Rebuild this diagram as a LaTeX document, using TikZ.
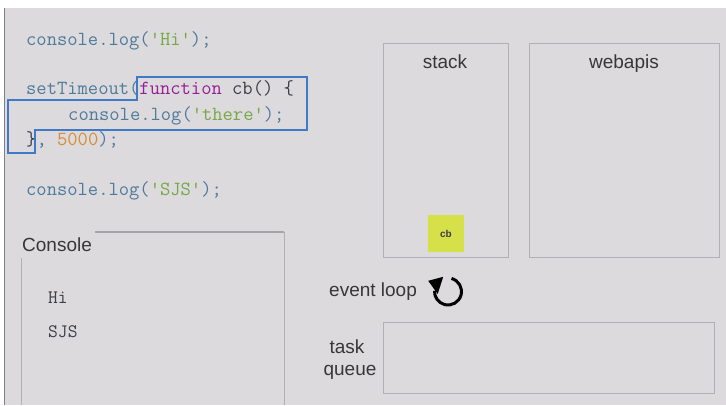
\documentclass[tikz,border=0pt]{standalone}
\usepackage{fontspec}
\setmainfont{Liberation Sans}
\definecolor{bggray}{RGB}{220,218,221}
\definecolor{leftline}{RGB}{128,128,130}
\definecolor{boxline}{RGB}{178,176,180}
\definecolor{consoleline}{RGB}{165,164,168}
\definecolor{codeblue}{RGB}{78,122,155}
\definecolor{codegreen}{RGB}{118,168,70}
\definecolor{codepurple}{RGB}{150,30,150}
\definecolor{codeorange}{RGB}{215,140,50}
\definecolor{codedark}{RGB}{60,62,72}
\definecolor{hlblue}{RGB}{62,122,200}
\definecolor{labeltext}{RGB}{55,55,58}
\definecolor{cbfill}{RGB}{214,224,72}
\begin{document}
\begin{tikzpicture}[x=1pt,y=-1pt,
  code/.style={font=\ttfamily\fontsize{20}{22}\selectfont, text=codeblue, anchor=base west, inner sep=0pt},
  consoleout/.style={font=\ttfamily\fontsize{19}{22}\selectfont, text=codedark, anchor=base west, inner sep=0pt},
  lbl/.style={font=\fontsize{19}{22}\selectfont, text=labeltext, inner sep=0pt},
  panel/.style={draw=boxline, line width=1pt, inner sep=0pt}]
\useasboundingbox (0,0) rectangle (726,405);
\fill[white] (0,0) rectangle (726,405);
\fill[bggray] (5,8) rectangle (726,405);
\draw[leftline, line width=1.5pt] (4.5,8) -- (4.5,405);

% code
\node[code] (l1) at (26,45.5) {console.log(\textcolor{codegreen}{'Hi'});};
\node[code] (l2) at (26,94) {setTimeout(\textcolor{codepurple}{function} \textcolor{codedark}{cb() \{}};
\node[code] (l3) at (68,120) {console.log(\textcolor{codegreen}{'there'});};
\node[code] (l4) at (26,145) {\textcolor{codedark}{\}}, \textcolor{codeorange}{5000});};
\node[code] (l5) at (26,195) {console.log(\textcolor{codegreen}{'SJS'});};

% highlight of the callback
\draw[hlblue, line width=1.5pt, line join=miter] (137,77) -- (307,77) -- (307,130) -- (35,130) -- (35,153) -- (8,153) -- (8,100) -- (137,100) -- cycle;

% panels
\node[panel, minimum width=125, minimum height=214] (stack) at (445.5,150) {};
\node[panel, minimum width=190, minimum height=214] (webapis) at (624,150) {};
\node[panel, minimum width=331, minimum height=71] (queue) at (548.5,357.5) {};
\node[lbl, anchor=base] (stacklbl) at (445,68.5) {stack};
\node[lbl, anchor=base] (webapislbl) at (624,68.5) {webapis};
\node[fill=cbfill, minimum width=36, minimum height=37, inner sep=0pt,
      font=\bfseries\fontsize{10}{11}\selectfont, text=codedark] (cb) at (446,233.5) {cb};

% console
\draw[consoleline, line width=1.6pt] (95,232) -- (284,232);
\draw[boxline, line width=1pt] (284,232) -- (284,405);
\draw[boxline, line width=1pt] (21,258) -- (21,405);
\node[lbl, anchor=base west] (consolelbl) at (22,251.5) {Console};
\node[consoleout] (hi) at (48,303) {Hi};
\node[consoleout] (sjs) at (48,337.5) {SJS};

% event loop
\node[lbl, anchor=base west] (evlbl) at (329,296) {event loop};
\coordinate (loopc) at (448,291.5);
\draw[black, line width=3pt] (loopc) ++(-75:13.5) arc[start angle=-75, end angle=183, radius=13.5];
\fill[black] (428.2,280.8) -- (443.2,276.8) -- (437.7,294) -- cycle;

% task queue label
\node[lbl, anchor=base] (tasklbl) at (347,353.5) {task};
\node[lbl, anchor=base] (queuelbl) at (350,375) {queue};
\end{tikzpicture}
\end{document}
